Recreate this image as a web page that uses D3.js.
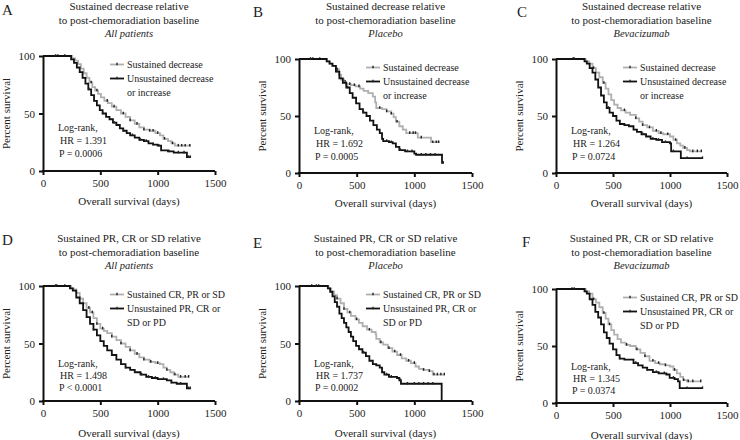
<!DOCTYPE html>
<meta charset="utf-8">
<style type="text/css">
body {
  margin: 0;
  background: #fff;
}
svg text {
  font-family: "Liberation Serif", "Times New Roman", serif;
  fill: #222;
}
.axis path,
.axis line {
  stroke: #111;
  stroke-width: 2px;
}
.axis text {
  font-size: 11px;
}
.curve {
  fill: none;
  stroke-width: 1.8px;
}
</style>
<body>
<script src="https://cdn.jsdelivr.net/npm/d3@7"></script>
<script>
// x ticks / y ticks
var xTicks = [0, 500, 1000, 1500];
var yTicks = [0, 50, 100];

// series: [day, percent survival] knots of each Kaplan-Meier step curve
var aSus = [[0,100],[235,100],[255,98],[280,96],[305,93],[330,89],[355,85],[380,81],[405,77],[430,73],[455,70],[480,67],[505,64],[535,61],[565,59],[600,56],[640,53],[680,50],[720,47],[760,44],[800,41],[840,38],[880,36],[930,35],[980,33],[1020,31],[1050,28],[1090,26],[1120,24],[1150,22],[1290,22]];
var aUns = [[0,100],[225,100],[245,97],[270,94],[295,90],[320,86],[345,81],[370,76],[395,71],[420,66],[445,61],[470,57],[495,53],[520,50],[550,47],[580,45],[610,42],[640,40],[670,37],[700,35],[730,33],[760,31],[800,29],[840,27],[880,26],[920,24],[960,23],[1000,22],[1030,18],[1090,17],[1140,16],[1245,16],[1255,12],[1290,12]];
var bSus = [[0,100],[220,100],[240,98],[265,96],[290,94],[320,91],[345,86],[365,82],[390,80],[410,78],[450,77],[490,76],[530,74],[560,72],[600,70],[640,67],[660,62],[670,57],[720,56],[760,54],[800,52],[820,49],[840,45],[870,41],[900,38],[930,35],[1020,35],[1030,31],[1135,31],[1145,27],[1220,27]];
var bUns = [[0,100],[215,100],[240,98],[265,96],[290,94],[320,89],[350,83],[380,79],[410,75],[440,70],[465,66],[495,61],[525,56],[555,53],[585,50],[615,46],[645,42],[675,38],[700,35],[720,30],[730,28],[780,27],[812,26],[840,23],[870,20],[920,19],[1000,17],[1015,16],[1230,16],[1240,9],[1255,9]];
var cSus = [[0,100],[235,100],[260,98],[290,96],[320,92],[350,88],[380,84],[410,79],[435,74],[460,69],[485,64],[510,60],[540,57],[570,55],[610,53],[650,51],[700,48],[730,45],[760,42],[800,40],[850,37],[900,35],[940,34],[1000,32],[1030,29],[1060,26],[1090,24],[1115,22],[1150,20],[1175,19],[1280,19]];
var cUns = [[0,100],[225,100],[250,98],[270,96],[295,92],[320,88],[345,82],[370,75],[395,68],[420,62],[445,57],[470,53],[500,50],[530,46],[560,43],[600,42],[640,41],[680,38],[710,36],[750,34],[790,32],[830,30],[880,29],[930,27],[1000,26],[1010,19],[1090,19],[1095,13],[1285,13]];
var dSus = [[0,100],[220,100],[245,98],[265,97],[290,94],[320,89],[350,85],[380,81],[410,77],[440,72],[470,67],[500,63],[530,61],[560,59],[600,56],[640,53],[680,50],[720,47],[760,44],[800,41],[840,38],[880,36],[930,34],[980,33],[1020,32],[1050,29],[1080,27],[1110,25],[1140,23],[1180,21],[1270,21]];
var dUns = [[0,100],[210,100],[235,98],[260,96],[290,90],[320,85],[350,79],[380,73],[410,67],[440,62],[470,57],[500,52],[530,48],[560,44],[600,40],[640,36],[680,32],[720,29],[760,27],[800,25],[850,23],[900,21],[950,20],[1000,19],[1080,18],[1120,16],[1166,15],[1245,15],[1255,11],[1285,11]];
var eSus = [[0,100],[230,100],[255,98],[280,95],[305,92],[330,89],[360,85],[390,80],[420,77],[450,74],[490,71],[520,68],[552,65],[590,62],[630,60],[665,58],[670,54],[700,51],[730,49],[770,46],[810,43],[850,40],[890,37],[930,35],[970,33],[1010,30],[1040,28],[1080,27],[1130,26],[1160,23],[1260,23]];
var eUns = [[0,100],[230,100],[250,98],[270,95],[290,91],[310,86],[330,82],[350,76],[370,72],[390,68],[410,64],[430,60],[450,56],[470,52],[495,48],[520,45],[550,42],[580,39],[610,35],[640,32],[670,31],[700,29],[720,25],[740,23],[780,21],[850,20],[870,18],[884,15],[1235,15],[1237,0]];
var fSus = [[0,100],[235,100],[260,98],[290,96],[320,91],[350,88],[380,84],[410,79],[435,74],[460,69],[485,64],[510,60],[540,56],[570,53],[610,51],[650,50],[700,47],[740,44],[780,41],[820,37],[870,35],[910,34],[960,33],[1000,32],[1030,29],[1060,26],[1090,23],[1115,20],[1150,19],[1270,19]];
var fUns = [[0,100],[225,100],[250,98],[270,96],[295,91],[320,86],[345,80],[370,75],[395,69],[420,62],[445,57],[470,52],[500,47],[530,42],[558,39],[600,38],[646,38],[680,35],[720,33],[760,31],[800,29],[850,27],[900,26],[968,25],[997,22],[1040,21],[1070,19],[1085,13],[1285,13]];

// censored days on each curve
var aSusCens = [130,190,420,470,560,620,700,760,820,880,930,960,1000,1060,1130,1180,1210,1240,1280];
var aUnsCens = [110,400,520,620,700,780,850,900,960,1010,1100,1180,1230,1270,1285];
var bSusCens = [120,180,330,400,440,480,520,700,760,800,850,960,990,1010,1060,1160,1190,1210];
var bUnsCens = [100,330,420,560,760,800,880,940,980,1060,1100,1140,1180,1250];
var cSusCens = [150,330,420,600,700,760,820,880,920,980,1050,1130,1200,1240,1275];
var cUnsCens = [160,460,640,760,850,900,960,1030,1150,1285];
var dSusCens = [120,190,400,430,470,520,600,680,760,820,880,940,1000,1080,1150,1200,1240,1270];
var dUnsCens = [110,440,600,720,800,860,920,980,1050,1120,1200,1270,1285];
var eSusCens = [110,170,330,390,440,500,610,710,780,830,880,950,1000,1080,1130,1170,1200,1230,1260];
var eUnsCens = [150,330,560,760,800,880,940,1000,1040,1080,1120,1160];
var fSusCens = [140,330,420,470,620,710,780,850,900,960,1040,1120,1160,1200,1270];
var fUnsCens = [160,560,700,800,880,950,1030,1150,1285];

var letters = ["A", "B", "C", "D", "E", "F"];
var titleLine1 = ["Sustained decrease relative", "Sustained decrease relative", "Sustained decrease relative",
  "Sustained PR, CR or SD relative", "Sustained PR, CR or SD relative", "Sustained PR, CR or SD relative"];
var titleLine2 = "to post-chemoradiation baseline";
var groups = ["All patients", "Placebo", "Bevacizumab", "All patients", "Placebo", "Bevacizumab"];
var hrValues = ["HR = 1.391", "HR = 1.692", "HR = 1.264", "HR = 1.498", "HR = 1.737", "HR = 1.345"];
var pValues = ["P = 0.0006", "P = 0.0005", "P = 0.0724", "P < 0.0001", "P = 0.0002", "P = 0.0374"];
var legendTop = [["Sustained decrease"], ["Unsustained decrease", "or increase"]];
var legendBottom = [["Sustained CR, PR or SD"], ["Unsustained PR, CR or", "SD or PD"]];

var susCurves = [aSus, bSus, cSus, dSus, eSus, fSus];
var unsCurves = [aUns, bUns, cUns, dUns, eUns, fUns];
var susCens = [aSusCens, bSusCens, cSusCens, dSusCens, eSusCens, fSusCens];
var unsCens = [aUnsCens, bUnsCens, cUnsCens, dUnsCens, eUnsCens, fUnsCens];

// plot rectangles (axis origin, 1500-day end, 100% and 0% rows)
var frames = [
  { left: 43, right: 215, top: 56, bottom: 171, row: 0 },
  { left: 299, right: 472, top: 59, bottom: 173, row: 0 },
  { left: 556, right: 727, top: 59, bottom: 173, row: 0 },
  { left: 43, right: 215, top: 286, bottom: 401, row: 1 },
  { left: 299, right: 472, top: 286, bottom: 401, row: 1 },
  { left: 556, right: 727, top: 289, bottom: 403, row: 1 }
];
var letterPos = [[2, 15], [253, 17], [517, 17], [2, 245], [253, 248], [522, 247]];

var grey = "#b0b0b0";
var black = "#111";

var svg = d3.select("body")
  .append("svg")
    .attr("width", 740)
    .attr("height", 440);

function survivalAt(curve, day) {
  var s = curve[0][1];
  curve.forEach(function(d) { if (d[0] <= day) s = d[1]; });
  return s;
}

frames.forEach(function(f, i) {
  var x = d3.scaleLinear().domain([0, 1500]).range([f.left, f.right]);
  var y = d3.scaleLinear().domain([0, 100]).range([f.bottom, f.top]);
  var cx = (f.left + f.right) / 2;
  var titleTop = f.row == 0 ? 10 : 242;
  var g = svg.append("g");

  g.append("text")
    .attr("x", letterPos[i][0])
    .attr("y", letterPos[i][1])
    .style("font-size", "15px")
    .text(letters[i]);

  g.append("text").attr("x", cx).attr("y", titleTop)
    .attr("text-anchor", "middle").style("font-size", "11px")
    .text(titleLine1[i]);
  g.append("text").attr("x", cx).attr("y", titleTop + 13.5)
    .attr("text-anchor", "middle").style("font-size", "11px")
    .text(titleLine2);
  g.append("text").attr("x", cx).attr("y", titleTop + 27)
    .attr("text-anchor", "middle").style("font-size", "10.5px")
    .style("font-style", "italic")
    .text(groups[i]);

  // curves
  var line = d3.line()
    .x(function(d) { return x(d[0]); })
    .y(function(d) { return y(d[1]); })
    .curve(d3.curveStepAfter);

  [[susCurves[i], susCens[i], grey], [unsCurves[i], unsCens[i], black]].forEach(function(c) {
    g.append("path")
      .attr("class", "curve")
      .attr("d", line(c[0]))
      .style("stroke", c[2]);
    g.selectAll(null)
      .data(c[1])
      .enter().append("line")
        .attr("x1", function(d) { return x(d); })
        .attr("x2", function(d) { return x(d); })
        .attr("y1", function(d) { return y(survivalAt(c[0], d)) - 1.8; })
        .attr("y2", function(d) { return y(survivalAt(c[0], d)) + 0.8; })
        .style("stroke", "#222")
        .style("stroke-width", 1.4);
  });

  // axes
  g.append("g")
    .attr("class", "axis")
    .attr("transform", "translate(0," + f.bottom + ")")
    .call(d3.axisBottom(x).tickValues(xTicks).tickFormat(d3.format("d"))
      .tickSize(4).tickSizeOuter(0).tickPadding(4))
    .call(function(a) { a.select(".domain").attr("d", "M" + (f.left - 1) + ",0H" + f.right); });

  g.append("g")
    .attr("class", "axis")
    .attr("transform", "translate(" + f.left + ",0)")
    .call(d3.axisLeft(y).tickValues(yTicks).tickSize(4).tickSizeOuter(0).tickPadding(4));

  g.selectAll(".axis text").style("fill", "#222");

  g.append("text")
    .attr("x", cx)
    .attr("y", f.bottom + (f.row == 0 ? 34 : 36))
    .attr("text-anchor", "middle")
    .style("font-size", "11px")
    .text("Overall survival (days)");

  g.append("text")
    .attr("transform", "translate(" + (f.left - 33) + "," + ((f.top + f.bottom) / 2) + ") rotate(-90)")
    .attr("text-anchor", "middle")
    .style("font-size", "11px")
    .text("Percent survival");

  // legend
  var legend = f.row == 0 ? legendTop : legendBottom;
  var rows = [[legend[0], grey, 0], [legend[1], black, 1]];
  rows.forEach(function(r) {
    var ly = f.top + 8.5 + r[2] * 14;
    g.append("line")
      .attr("x1", f.left + 67).attr("x2", f.left + 81)
      .attr("y1", ly).attr("y2", ly)
      .style("stroke", r[1]).style("stroke-width", 1.8);
    g.append("line")
      .attr("x1", f.left + 74).attr("x2", f.left + 74)
      .attr("y1", ly - 1.8).attr("y2", ly + 0.8)
      .style("stroke", "#222").style("stroke-width", 1.4);
    r[0].forEach(function(t, k) {
      g.append("text")
        .attr("x", f.left + 84)
        .attr("y", ly + 3.5 + k * 14)
        .style("font-size", "10px")
        .text(t);
    });
  });

  // log-rank annotation
  var ay = f.top + (f.row == 0 ? 75 : 81);
  var step = f.row == 0 ? 13 : 12;
  g.append("text").attr("x", f.left + 15).attr("y", ay)
    .style("font-size", "10px").text("Log-rank,");
  g.append("text").attr("x", f.left + 17).attr("y", ay + step)
    .style("font-size", "10px").text(hrValues[i]);
  g.append("text").attr("x", f.left + 16).attr("y", ay + 2 * step)
    .style("font-size", "10px").text(pValues[i]);
});
</script>
</body>
